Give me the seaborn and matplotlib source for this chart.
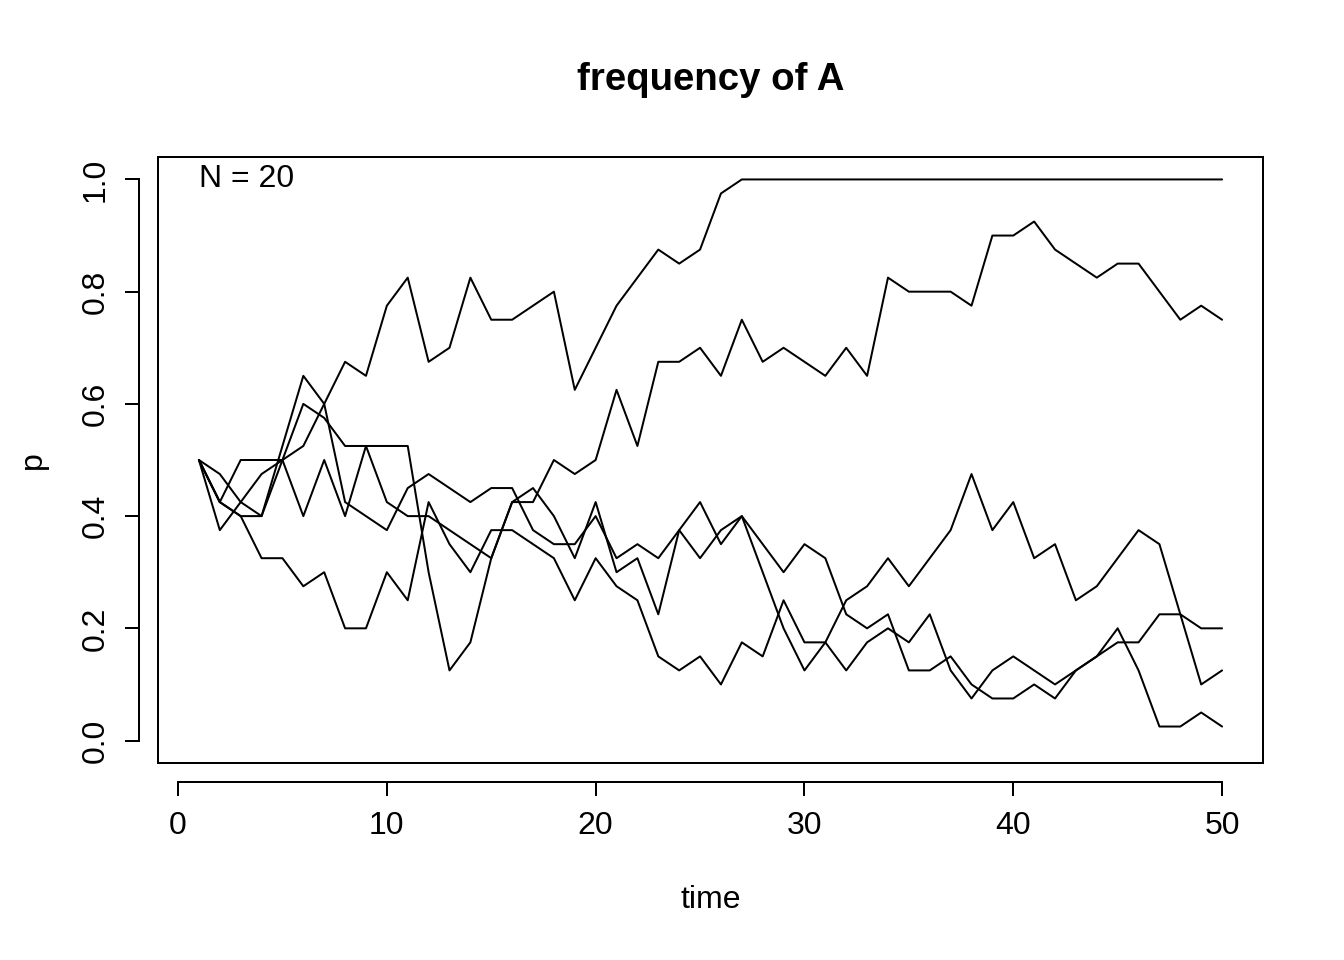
import numpy as np
import pandas as pd
import matplotlib
matplotlib.use("Agg")
import matplotlib.pyplot as plt
from matplotlib.patches import Rectangle
import seaborn as sns

time = list(range(1, 51))
rep1 = [0.5, 0.375, 0.425, 0.475, 0.5, 0.525, 0.6, 0.675, 0.65, 0.775, 0.825, 0.675, 0.7, 0.825,
        0.75, 0.75, 0.775, 0.8, 0.625, 0.7, 0.775, 0.825, 0.875, 0.85, 0.875, 0.975] + [1.0] * 24
rep2 = [0.5, 0.425, 0.5, 0.5, 0.5, 0.4, 0.5, 0.4, 0.525, 0.425, 0.4, 0.4, 0.375, 0.35, 0.325, 0.425,
        0.45, 0.4, 0.325, 0.425, 0.3, 0.325, 0.225, 0.375, 0.425, 0.35, 0.4,
        0.35, 0.3, 0.35, 0.325, 0.225, 0.2, 0.225,
        0.125, 0.125, 0.15, 0.1, 0.075, 0.075, 0.1, 0.075,
        0.125, 0.15, 0.2, 0.125, 0.025, 0.025, 0.05, 0.025]
rep3 = [0.5, 0.425, 0.4, 0.325, 0.325, 0.275, 0.3, 0.2, 0.2, 0.3, 0.25, 0.425, 0.35, 0.3, 0.375,
        0.375, 0.35, 0.325, 0.25, 0.325, 0.275, 0.25, 0.15, 0.125, 0.15, 0.1,
        0.175, 0.15, 0.25, 0.175, 0.175, 0.125, 0.175, 0.2, 0.175, 0.225, 0.125, 0.075, 0.125,
        0.15, 0.125, 0.1, 0.125, 0.15, 0.175, 0.175, 0.225, 0.225, 0.2, 0.2]
rep4 = [0.5, 0.475, 0.425, 0.4, 0.5, 0.6, 0.575, 0.525, 0.525, 0.525, 0.525, 0.3, 0.125, 0.175,
        0.325, 0.425, 0.425, 0.5, 0.475, 0.5, 0.625, 0.525, 0.675, 0.675, 0.7, 0.65, 0.75, 0.675,
        0.7, 0.675, 0.65, 0.7, 0.65, 0.825, 0.8, 0.8, 0.8, 0.775, 0.9, 0.9, 0.925, 0.875, 0.85,
        0.825, 0.85, 0.85, 0.8, 0.75, 0.775, 0.75]
rep5 = [0.5, 0.425, 0.4, 0.4, 0.525, 0.65, 0.6, 0.425, 0.4, 0.375, 0.45, 0.475, 0.45, 0.425, 0.45,
        0.45, 0.375, 0.35, 0.35, 0.4, 0.325, 0.35, 0.325, 0.375, 0.325, 0.375, 0.4,
        0.3, 0.2, 0.125, 0.175, 0.25, 0.275, 0.325, 0.275, 0.325, 0.375, 0.475, 0.375, 0.425,
        0.325, 0.35, 0.25, 0.275, 0.325, 0.375, 0.35, 0.225, 0.1, 0.125]

series = [rep1, rep2, rep3, rep4, rep5]
df = pd.concat([pd.DataFrame({"time": time, "p": s, "rep": i}) for i, s in enumerate(series)],
               ignore_index=True)

sns.set_theme(style="white")
plt.rcParams["font.family"] = ["Liberation Sans", "DejaVu Sans"]
plt.rcParams["text.color"] = "black"

W, H = 1344, 960
fig = plt.figure(figsize=(7, 5), dpi=192)
L, R, T, B = 158, 1263, 157, 763
ax = fig.add_axes([L / W, 1 - B / H, (R - L) / W, (B - T) / H])

sns.lineplot(data=df, x="time", y="p", units="rep", estimator=None, color="black",
             linewidth=0.75, ax=ax, legend=False)

ax.set_xlim(1 - 0.04 * 49, 50 + 0.04 * 49)
ax.set_ylim(-0.04, 1.04)
ax.set_xticks([0, 10, 20, 30, 40, 50])
ax.set_yticks([0.0, 0.2, 0.4, 0.6, 0.8, 1.0])
ax.set_yticklabels(["0.0", "0.2", "0.4", "0.6", "0.8", "1.0"])
ax.set_xlabel("")
ax.set_ylabel("")

for side in ["top", "right"]:
    ax.spines[side].set_visible(False)
ax.spines["bottom"].set_position(("outward", 7.2))
ax.spines["left"].set_position(("outward", 7.2))
ax.spines["bottom"].set_bounds(0, 50)
ax.spines["left"].set_bounds(0, 1)
for side in ["bottom", "left"]:
    ax.spines[side].set_linewidth(0.75)
    ax.spines[side].set_color("black")
ax.add_patch(Rectangle((0, 0), 1, 1, transform=ax.transAxes, fill=False, lw=0.75,
                       edgecolor="black", clip_on=False))
ax.tick_params(axis="both", which="both", direction="out", length=5.4, width=0.75,
               color="black", labelsize=12, labelcolor="black")
ax.tick_params(axis="x", pad=5.5)
ax.tick_params(axis="y", pad=5.0, labelrotation=90)
for lab in ax.get_yticklabels():
    lab.set_verticalalignment("center")
    lab.set_horizontalalignment("right")
ax.tick_params(bottom=True, left=True)

ax.text(1, 1.0, "N = 20", ha="left", va="center", fontsize=12, color="black")

fig.text((L + R) / 2 / W, 1 - 80 / H, "frequency of A", ha="center", va="center",
         fontsize=14.4, fontweight="bold", color="black")
fig.text((L + R) / 2 / W, 1 - 900 / H, "time", ha="center", va="center", fontsize=12,
         color="black")
fig.text(33 / W, 1 - 460 / H, "p", ha="center", va="center", fontsize=12, rotation=90,
         color="black")

fig.savefig("out.png", dpi=192, facecolor="white")
